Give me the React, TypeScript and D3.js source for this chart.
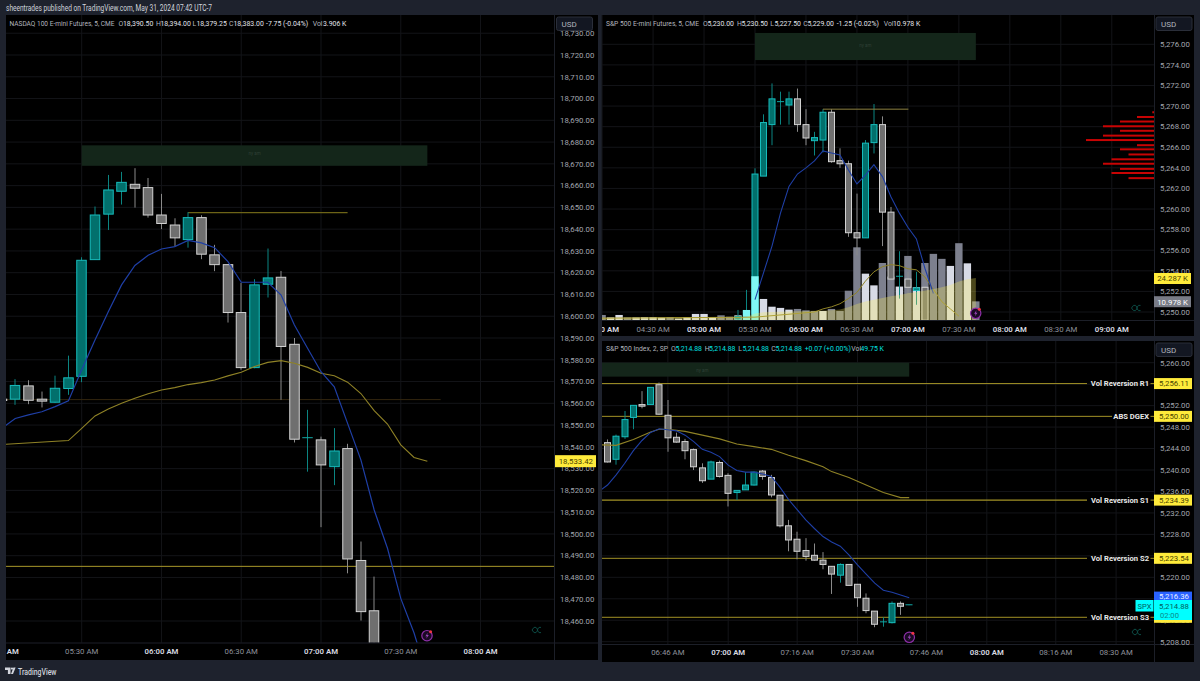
import React from "react";
import * as d3 from "d3";

type C = [string, number, number, number, number];
type P = [string, number];

const nqCandles: C[] = [
["05:00",18561.9,18562,18561.2,18561.3],["05:05",18561.9,18571.1,18559.3,18568.2],["05:10",18568,18570.6,18559.6,18561.4],["05:15",18561.9,18565.4,18558.1,18561],["05:20",18560.5,18572.7,18560.2,18566.9],["05:25",18566.8,18581.9,18563.9,18571.7],["05:30",18572.4,18627.1,18569.7,18625.7],["05:35",18626,18650.4,18626,18646.5],["05:40",18646.9,18664.9,18639.6,18658],["05:45",18657.4,18666.3,18651.3,18661.5],["05:50",18660.6,18668,18649.9,18658.8],["05:55",18659.1,18663.5,18645.3,18646.5],["06:00",18646.5,18656.2,18640,18642.6],["06:05",18641.9,18645,18632,18636],["06:10",18635.2,18647.8,18631.5,18645.3],["06:15",18645.3,18646.4,18626.2,18628.5],["06:20",18628.2,18632.8,18620.7,18623.7],["06:25",18623.7,18623.7,18597.1,18601.7],["06:30",18601.7,18615.3,18575.4,18576.4],["06:35",18576.4,18617,18576.1,18614.4],["06:40",18614.7,18631.1,18608.6,18617.6],["06:45",18617.9,18620.8,18561.6,18586.1],["06:50",18587.1,18590,18542,18543.5],["06:55",18544,18557,18528.6,18544.2],["07:00",18543.2,18544.7,18503.1,18531.7],["07:05",18530.9,18548.6,18522.4,18538.1],["07:10",18539.2,18541.4,18481.9,18488.5],["07:15",18487.8,18496.5,18460.2,18464.3],["07:20",18464.7,18480.4,18438,18440]];
const nqBlue: P[] = [["05:00",18548.6],["05:05",18553],["05:10",18554.7],["05:15",18556.1],["05:20",18558.5],["05:25",18561.1],["05:30",18575.4],["05:35",18589.1],["05:40",18602.1],["05:45",18614.4],["05:50",18623.3],["05:55",18628],["06:00",18630.9],["06:05",18632],["06:10",18634.8],["06:15",18633.7],["06:20",18631.5],["06:25",18625.1],["06:30",18615.6],["06:35",18615.6],["06:40",18615.6],["06:45",18609.7],["06:50",18596],["06:55",18585.2],["07:00",18574.5],["07:05",18567.6],["07:10",18550.8],["07:15",18534],["07:20",18511],["07:25",18493.4],["07:30",18470.4],["07:35",18454.5],["07:40",18434.4]];
const nqYellow: P[] = [["05:00",18541.1],["05:25",18542.9],["05:30",18548.5],["05:35",18554.2],["05:40",18557.4],["05:45",18560],["05:50",18562.3],["05:55",18564.4],["06:00",18566.1],["06:05",18567.2],["06:10",18568.6],["06:15",18569.5],["06:20",18570.7],["06:25",18572.6],["06:30",18574.3],["06:35",18576.9],["06:40",18578.8],["06:45",18579.6],["06:50",18578.4],["06:55",18576.5],["07:00",18573.8],["07:05",18572.7],["07:10",18569.7],["07:15",18564.5],["07:20",18556.6],["07:25",18550.5],["07:30",18540.9],["07:35",18535.1],["07:40",18533.4]];
const nqTimes = ["05:00","05:30","06:00","06:30","07:00","07:30","08:00"];
const nqTicks = d3.range(18460, 18740, 10);

const esCandles: C[] = [
["05:20",5249.3,5250.2,5249.2,5249.56],["05:25",5249.3,5252.15,5249.2,5250.14],["05:30",5249.8,5263.96,5249.8,5263.4],["05:35",5263.2,5269.2,5263.2,5268.4],["05:40",5268.2,5272.2,5266.2,5270.7],["05:45",5270.4,5271.4,5268.2,5270.43],["05:50",5270.1,5271.4,5268.2,5270.7],["05:55",5270.7,5271.7,5267.5,5268.2],["06:00",5268.2,5269.7,5266.2,5266.9],["06:05",5266.64,5267.5,5265.2,5266.94],["06:10",5266.7,5269.7,5265.5,5269.4],["06:15",5269.4,5269.7,5264.5,5264.6],["06:20",5264.7,5265.9,5264,5264.4],["06:25",5264.4,5264.7,5257.3,5257.7],["06:30",5257.7,5261.5,5255.5,5257.2],["06:35",5257.2,5266.7,5257.2,5266.4],["06:40",5266.45,5270.2,5265.4,5268.2],["06:45",5268.2,5269,5256.4,5259.7],["06:50",5259.7,5260.2,5253.05,5253.2],["06:55",5253.4,5255.9,5251.3,5253.47],["07:00",5253.2,5253.9,5251.7,5252.4],["07:05",5252.1,5253.9,5250.7,5252.34],["07:10",5252.4,5252.5,5249.2,5249.2]];
const esBlue: P[] = [["05:30",5251.2],["05:35",5253.8],["05:40",5256.4],["05:45",5259.6],["05:50",5262.2],["05:55",5263.4],["06:00",5264],["06:05",5264.67],["06:10",5265.64],["06:15",5265.45],["06:20",5265.25],["06:25",5263.8],["06:30",5262.44],["06:35",5263.3],["06:40",5264.3],["06:45",5263.15],["06:50",5261.2],["06:55",5259.6],["07:00",5258.23],["07:05",5257.1],["07:10",5254.25],["07:15",5251.8]];
const esYellow: P[] = [["04:00",5249.4],["05:30",5249.5],["06:05",5250],["06:10",5250.3],["06:15",5250.5],["06:20",5250.8],["06:25",5251.3],["06:30",5251.9],["06:35",5253],["06:40",5253.9],["06:45",5254.4],["06:50",5254.6],["06:55",5254.5],["07:00",5254.2],["07:05",5254.1],["07:10",5253.4],["07:15",5252.2],["07:20",5251],["07:25",5250.3],["07:30",5249.6]];
const esVolTimes = ["04:00","04:05","04:10","04:15","04:20","04:25","04:30","04:35","04:40","04:45","04:50","04:55","05:00","05:05","05:10","05:15","05:20","05:25","05:30","05:35","05:40","05:45","05:50","05:55","06:00","06:05","06:10","06:15","06:20","06:25","06:30","06:35","06:40","06:45","06:50","06:55","07:00","07:05","07:10","07:15","07:20","07:25","07:30","07:35","07:40"];
const esVol = [3.1,1.7,3.1,1.7,1.7,1.9,1.9,1.6,1.9,1,1.9,3.7,3.7,1.9,2.9,2.1,2.9,6,25.6,12.4,7.9,7.2,6.2,6.6,5.8,5.4,5.4,6.6,5.4,17.2,42.4,27.1,20.3,33.3,25.4,19.6,37.4,19.2,33.3,38.6,35.7,31.6,44.8,33.1,11];
const esVolKind = ["g","l","l","g","l","l","l","l","g","l","l","l","l","l","g","g","l","c","c","l","l","l","l","g","g","g","l","g","g","g","g","l","l","g","g","l","g","l","g","g","g","l","g","l","g"];
const esVolMa: P[] = [["04:00",1.6],["05:25",1.9],["05:30",4],["05:35",4.7],["06:00",5.4],["06:15",5.8],["06:20",6.3],["06:25",7.6],["06:30",9.5],["06:35",10.9],["06:40",12],["06:45",13],["06:50",14],["06:55",14.7],["07:00",15.7],["07:05",16.5],["07:10",17.2],["07:15",18.2],["07:20",19.2],["07:25",20.5],["07:30",22.5],["07:35",23.8],["07:40",24.6]];
const esProfilePrices = [5269.4,5268.94,5268.5,5268.04,5267.6,5267.13,5266.7,5266.2,5265.8,5265.3,5264.83,5264.4,5263.9,5263.5,5263];
const esProfileSize = [0.2,2,4,6,4,6,8,2,4,3,5,6,4,5,3];
const esTimes = ["04:00","04:30","05:00","05:30","06:00","06:30","07:00","07:30","08:00","08:30","09:00"];
const esTicks = d3.range(5250, 5278, 2);

const spxCandles: C[] = [
["06:32",5245.1,5245.7,5241.4,5241.5],["06:34",5242,5246.6,5241,5246.3],["06:36",5246.2,5251,5245.8,5249.4],["06:38",5249.8,5252.05,5247.6,5252.05],["06:40",5252.2,5254.7,5251.5,5251.9],["06:42",5252.2,5255.4,5252.2,5255.4],["06:44",5255.9,5256.3,5250.3,5250.4],["06:46",5250.2,5253.05,5243.4,5246],["06:48",5246.1,5246.96,5245.1,5245.2],["06:50",5245.3,5245.8,5242,5243.6],["06:52",5243.8,5244,5240,5240.6],["06:54",5240.4,5241.25,5237.6,5238],["06:56",5238.3,5241.75,5238.3,5241.5],["06:58",5241.4,5241.75,5238.6,5238.8],["07:00",5239,5239.4,5233.2,5235.65],["07:02",5235.8,5236.2,5234.4,5236.2],["07:04",5236.3,5239.6,5236.3,5237.2],["07:06",5237.2,5239.7,5237.1,5239.6],["07:08",5239.8,5240,5238.2,5238.8],["07:10",5238.6,5239.1,5234.9,5235.35],["07:12",5235.3,5235.3,5229.3,5229.6],["07:14",5229.6,5230.7,5224.85,5226.96],["07:16",5227.1,5228.5,5223.35,5224.85],["07:18",5225,5227.3,5223.1,5223.9],["07:20",5224.1,5226.3,5223.1,5223.2],["07:22",5223.2,5224.7,5221.5,5222.4],["07:24",5222.05,5222.05,5216.9,5220.6],["07:26",5220.4,5222.6,5219,5222.4],["07:28",5222.4,5222.4,5218.45,5218.5],["07:30",5218.7,5218.7,5214.5,5216.2],["07:32",5216.1,5217,5213.3,5213.8],["07:34",5213.7,5213.7,5210.7,5211.25],["07:36",5211.6,5212.55,5210.8,5211.7],["07:38",5211.55,5215.5,5211.4,5215.15],["07:40",5215.15,5215.5,5213,5214.6],["07:42",5214.8,5214.88,5214.8,5214.88]];
const spxBlue: P[] = [["06:30",5236],["06:32",5237.2],["06:34",5239.1],["06:36",5241.25],["06:38",5243.6],["06:40",5245.5],["06:42",5247],["06:44",5247.7],["06:46",5247.5],["06:48",5247.3],["06:50",5246.5],["06:52",5245.3],["06:54",5243.85],["06:56",5243.3],["06:58",5242.5],["07:00",5240.9],["07:02",5239.9],["07:04",5239.6],["07:06",5239.6],["07:08",5239.25],["07:10",5238.8],["07:12",5236.8],["07:14",5234.5],["07:16",5232.6],["07:18",5230.7],["07:20",5229.1],["07:22",5227.6],["07:24",5226.6],["07:26",5225.8],["07:28",5224.2],["07:30",5222.3],["07:32",5220.6],["07:34",5218.9],["07:36",5217.6],["07:38",5217.2],["07:40",5216.7],["07:42",5216.2]];
const spxYellow: P[] = [["06:30",5244.7],["06:34",5244.6],["06:38",5245.7],["06:42",5247.1],["06:44",5247.6],["06:46",5247.6],["06:50",5247.2],["06:54",5246.5],["06:58",5245.8],["07:02",5244.85],["07:06",5244.35],["07:10",5243.85],["07:14",5242.75],["07:18",5241.75],["07:22",5240.6],["07:24",5239.7],["07:28",5238.6],["07:32",5237.2],["07:36",5235.8],["07:40",5234.85],["07:42",5234.85]];
const spxLevels = [5256.11, 5250.0, 5234.39, 5223.54, 5212.55];
const spxLevelNames = ["Vol Reversion R1", "ABS DGEX", "Vol Reversion S1", "Vol Reversion S2", "Vol Reversion S3"];
const spxTimes = ["06:46","07:00","07:16","07:30","07:46","08:00","08:16","08:30"];
const spxTicks = d3.range(5208, 5264, 4);

const FONT = "Roboto, 'Liberation Sans', sans-serif";
const BG = "#1e222d";
const toMin = (s: string) => { const [h, m] = s.split(":").map(Number); return h * 60 + m; };
const fmt = d3.format(",.2f");

const xNq = d3.scaleLinear([toMin("05:30"), toMin("07:00")], [81.7, 321]);
const yNq = d3.scaleLinear([18460, 18720], [621, 55]);
const xEs = d3.scaleLinear([toMin("05:30"), toMin("07:00")], [755, 907.9]);
const yEs = d3.scaleLinear([5250, 5276], [312, 44.3]);
const yVol = d3.scaleLinear([0, 24.287], [320.3, 278.5]);
const xSpx = d3.scaleLinear([toMin("07:00"), toMin("07:30")], [728.2, 857.5]);
const ySpx = d3.scaleLinear([5208, 5260], [641.7, 362.7]);
const xProfile = d3.scaleLinear([0, 8], [1154, 1086]);

type Sc = d3.ScaleLinear<number, number>;

function linePath(pts: P[], x: Sc, y: Sc) {
  return d3.line<P>().x((d) => x(toMin(d[0]))).y((d) => y(d[1]))(pts) || "";
}

function Candles({ data, x, y, w }: { data: C[]; x: Sc; y: Sc; w: number }) {
  return (
    <g>
      {data.map((d) => {
        const [t, o, h, l, c] = d;
        const up = c >= o;
        const cx = Math.round(x(toMin(t)) * 2) / 2;
        const top = y(Math.max(o, c));
        const bot = y(Math.min(o, c));
        const flat = bot - top < 1.2;
        return (
          <g key={t}>
            <line x1={cx} x2={cx} y1={y(h)} y2={y(l)} stroke={up ? "#0b8582" : "#8a8a8a"} strokeWidth={1} />
            {flat ? (
              <line x1={cx - w / 2} x2={cx + w / 2} y1={top} y2={top} stroke={up ? "#11a8a6" : "#d0d0d0"} strokeWidth={1} />
            ) : (
              <rect x={cx - w / 2 + 0.5} y={top} width={w - 1} height={bot - top} fill={up ? (bot - top < 8 ? "#047f7c" : "#02706c") : "#6f6f6f"} stroke={up ? "#17bcbc" : "#d2d2d2"} strokeWidth={1} />
            )}
          </g>
        );
      })}
    </g>
  );
}

function Bolt({ cx, cy }: { cx: number; cy: number }) {
  return (
    <g>
      <circle cx={cx} cy={cy} r={5.2} fill="#1a0a24" stroke="#8e2fa8" strokeWidth={1.2} />
      <path d={`M${cx + 0.8} ${cy - 3}L${cx - 1.6} ${cy + 0.5}H${cx}L${cx - 0.8} ${cy + 3}L${cx + 1.8} ${cy - 0.6}H${cx + 0.2}Z`} fill="#9a45b8" />
      <circle cx={cx + 3.6} cy={cy - 4} r={1.5} fill="#f23645" />
    </g>
  );
}

function Mark({ cx, cy }: { cx: number; cy: number }) {
  return (
    <g fill="none" stroke="#0c4a44" strokeWidth={1}>
      <path d={`M${cx - 4} ${cy}L${cx - 2} ${cy - 2.6}H${cx}L${cx + 2} ${cy}L${cx} ${cy + 2.6}H${cx - 2}Z`} />
      <path d={`M${cx + 5} ${cy - 2.6}H${cx + 3}L${cx + 1} ${cy}L${cx + 3} ${cy + 2.6}H${cx + 5}`} />
    </g>
  );
}

function Usd({ x, y }: { x: number; y: number }) {
  return (
    <g>
      <rect x={x} y={y} width={36} height={13.5} rx={2} fill="#131722" stroke="#2a2e39" />
      <text x={x + 5} y={y + 10} fontSize={8} fill="#b2b5be" fontFamily={FONT}>USD</text>
    </g>
  );
}

function Hdr({ y, items }: { y: number; items: [number, string, string, number?][] }) {
  return (
    <g fontFamily={FONT} fontSize={6.9}>
      {items.map(([x, s, col, len], i) => (
        <text key={i} x={x} y={y} fill={col} textLength={len} lengthAdjust="spacingAndGlyphs">{s}</text>
      ))}
    </g>
  );
}

function Grid({ times, ticks, x, y, left, right, top, bottom }: { times: string[]; ticks: number[]; x: Sc; y: Sc; left: number; right: number; top: number; bottom: number }) {
  return (
    <g stroke="#131418" strokeWidth={1}>
      {times.map((t) => x(toMin(t)) >= left ? <line key={t} x1={x(toMin(t))} x2={x(toMin(t))} y1={top} y2={bottom} /> : null)}
      {ticks.map((t) => <line key={t} x1={left} x2={right} y1={y(t)} y2={y(t)} />)}
    </g>
  );
}

function TimeLabels({ times, x, yText, clip }: { times: string[]; x: Sc; yText: number; clip: string }) {
  return (
    <g clipPath={`url(#${clip})`} fontFamily={FONT} fontSize={7.8} textAnchor="middle">
      {times.map((t) => {
        const bold = t.endsWith(":00");
        return (
          <text key={t} x={x(toMin(t))} y={yText} fill={bold ? "#d8dae0" : "#8f929b"} fontWeight={bold ? 600 : 400}>{t} AM</text>
        );
      })}
    </g>
  );
}

function PriceLabels({ ticks, y, x }: { ticks: number[]; y: Sc; x: number }) {
  return (
    <g fontFamily={FONT} fontSize={7.8} fill="#a3a6af">
      {ticks.map((t) => <text key={t} x={x} y={y(t) + 2.8}>{fmt(t)}</text>)}
    </g>
  );
}

function Tag({ x, yc, w, text, bg, fg, h = 11 }: { x: number; yc: number; w: number; text: string; bg: string; fg: string; h?: number }) {
  return (
    <g>
      <rect x={x} y={yc - h / 2} width={w} height={h} fill={bg} />
      <text x={x + w - 3} y={yc + 2.8} textAnchor="end" fontFamily={FONT} fontSize={7.8} fill={fg}>{text}</text>
    </g>
  );
}

export default function App() {
  const levelsX = 1154;
  return (
    <svg width={1200} height={681} style={{ position: "fixed", left: 0, top: 0, display: "block", background: BG }}>
      <defs>
        <clipPath id="nqP"><rect x={6} y={15} width={548.5} height={627.7} /></clipPath>
        <clipPath id="nqA"><rect x={555} y={31} width={43} height={611} /></clipPath>
        <clipPath id="nqT"><rect x={6} y={643} width={548} height={17} /></clipPath>
        <clipPath id="esP"><rect x={602} y={15} width={552.3} height={305.3} /></clipPath>
        <clipPath id="esT"><rect x={602} y={321} width={552} height={15} /></clipPath>
        <clipPath id="spP"><rect x={602} y={341} width={552} height={303} /></clipPath>
        <clipPath id="spT"><rect x={602} y={645} width={552} height={17} /></clipPath>
      </defs>

      <text x={6} y={11} fontFamily={FONT} fontSize={8.2} fill="#d1d4dc" textLength={206} lengthAdjust="spacingAndGlyphs">sheentrades published on TradingView.com, May 31, 2024 07:42 UTC-7</text>

      {/* NQ panel */}
      <rect x={6} y={15} width={592} height={645} fill="#000" />
      <Grid times={nqTimes} ticks={nqTicks} x={xNq} y={yNq} left={6} right={554} top={15} bottom={642.7} />
      <g clipPath="url(#nqP)">
        <rect x={xNq(toMin("05:30"))} y={yNq(18678.5)} width={xNq(toMin("07:40")) - xNq(toMin("05:30"))} height={yNq(18669.1) - yNq(18678.5)} fill="#14261a" />
        <text x={xNq(toMin("06:35"))} y={yNq(18674)} textAnchor="middle" fontSize={4.5} fill="#2f4036" fontFamily={FONT}>ny am</text>
        <line x1={xNq(toMin("05:00"))} x2={xNq(toMin("07:45"))} y1={yNq(18561.7)} y2={yNq(18561.7)} stroke="#33260f" />
        <line x1={xNq(toMin("06:10"))} x2={xNq(toMin("07:10"))} y1={yNq(18647.6)} y2={yNq(18647.6)} stroke="#6d6417" strokeWidth={1.4} />
        <line x1={6} x2={554} y1={yNq(18485.1)} y2={yNq(18485.1)} stroke="#a8982a" />
        <Candles data={nqCandles} x={xNq} y={yNq} w={10.5} />
        <path d={linePath(nqYellow, xNq, yNq)} fill="none" stroke="#8f8226" strokeWidth={1.1} />
        <path d={linePath(nqBlue, xNq, yNq)} fill="none" stroke="#1f3fa6" strokeWidth={1.2} />
      </g>
      <line x1={554.5} x2={554.5} y1={15} y2={660} stroke="#1c1f28" />
      <line x1={6} x2={598} y1={643} y2={643} stroke="#1c1f28" />
      <g clipPath="url(#nqA)"><PriceLabels ticks={nqTicks} y={yNq} x={560} /></g>
      <Usd x={556.5} y={17} />
      <Tag x={555} yc={yNq(18533.42)} w={41} text="18,533.42" bg="#ffeb3b" fg="#4a4300" h={12} />
      <Hdr y={25.5} items={[[9.5,"NASDAQ 100 E-mini Futures, 5, CME","#b2b5be",105],[118.5,"O","#b2b5be"],[123,"18,390.50","#e0e3eb"],[156,"H","#b2b5be"],[160.5,"18,394.00","#e0e3eb"],[192.5,"L","#b2b5be"],[196.5,"18,379.25","#e0e3eb"],[229,"C","#b2b5be"],[233.5,"18,383.00","#e0e3eb"],[266,"-7.75 (-0.04%)","#e0e3eb"],[312.7,"Vol","#b2b5be"],[323,"3.906 K","#e0e3eb"]]} />
      <TimeLabels times={nqTimes} x={xNq} yText={654} clip="nqT" />
      <Bolt cx={427} cy={635.7} />
      <Mark cx={536} cy={630} />

      {/* ES panel */}
      <rect x={602} y={15} width={592} height={321} fill="#000" />
      <Grid times={esTimes} ticks={esTicks} x={xEs} y={yEs} left={602} right={1154} top={15} bottom={320} />
      <g clipPath="url(#esP)">
        <rect x={xEs(toMin("05:30"))} y={yEs(5277.1)} width={xEs(toMin("07:40")) - xEs(toMin("05:30"))} height={yEs(5274.47) - yEs(5277.1)} fill="#14261a" />
        <text x={xEs(toMin("06:35"))} y={yEs(5275.7)} textAnchor="middle" fontSize={4.5} fill="#2f4036" fontFamily={FONT}>ny am</text>
        {esProfilePrices.map((p, i) => (
          <rect key={p} x={xProfile(esProfileSize[i])} y={yEs(p) - 1} width={xProfile(0) - xProfile(esProfileSize[i])} height={2} fill="#c80404" />
        ))}
        {esVolTimes.map((t, i) => esVolKind[i] === "c" ? null : (
          <rect key={t} x={xEs(toMin(t)) - 3.7} y={yVol(esVol[i])} width={7.4} height={yVol(0) - yVol(esVol[i])} fill={esVolKind[i] === "g" ? "#7d808e" : "#d8dbe6"} />
        ))}
        <Candles data={esCandles} x={xEs} y={yEs} w={7} />
        {esVolTimes.map((t, i) => esVolKind[i] !== "c" ? null : (
          <rect key={t} x={xEs(toMin(t)) - 3.7} y={yVol(esVol[i])} width={7.4} height={yVol(0) - yVol(esVol[i])} fill="#7ff7f5" />
        ))}
        <line x1={xEs(toMin("06:10"))} x2={xEs(toMin("07:00")) + 0.5} y1={yEs(5269.7)} y2={yEs(5269.7)} stroke="#8d8240" strokeWidth={1} />
        <path d={linePath(esYellow, xEs, yEs)} fill="none" stroke="#8f8226" strokeWidth={1} />
        <path d={linePath(esBlue, xEs, yEs)} fill="none" stroke="#1f3fa6" strokeWidth={1.1} />
        <path d={d3.area<P>().x((d) => xEs(toMin(d[0]))).y0(yVol(0)).y1((d) => yVol(d[1]))(esVolMa) || ""} fill="rgba(250,235,90,0.3)" />
      </g>
      <line x1={1154.5} x2={1154.5} y1={15} y2={336} stroke="#1c1f28" />
      <line x1={602} x2={1194} y1={320.5} y2={320.5} stroke="#1c1f28" />
      <PriceLabels ticks={esTicks} y={yEs} x={1160} />
      <Usd x={1156} y={17} />
      <Tag x={1154} yc={278.5} w={37} text="24.287 K" bg="#ffeb3b" fg="#4a4300" />
      <Tag x={1154} yc={301.7} w={37} text="10.978 K" bg="#787b86" fg="#fff" />
      <Hdr y={25.5} items={[[606,"S&P 500 E-mini Futures, 5, CME","#b2b5be",93],[703,"O","#b2b5be"],[707.5,"5,230.00","#e0e3eb"],[737,"H","#b2b5be"],[741.5,"5,230.50","#e0e3eb"],[770.3,"L","#b2b5be"],[774.5,"5,227.50","#e0e3eb"],[803.3,"C","#b2b5be"],[807.5,"5,229.00","#e0e3eb"],[836.7,"-1.25 (-0.02%)","#e0e3eb"],[883.7,"Vol","#b2b5be"],[893,"10.978 K","#e0e3eb"]]} />
      <TimeLabels times={esTimes} x={xEs} yText={331.5} clip="esT" />
      <Bolt cx={975.7} cy={313.3} />
      <Mark cx={1135.5} cy={308} />

      {/* SPX panel */}
      <rect x={602} y={341} width={592} height={321} fill="#000" />
      <Grid times={spxTimes} ticks={spxTicks} x={xSpx} y={ySpx} left={602} right={1154} top={341} bottom={644} />
      <g clipPath="url(#spP)">
        <rect x={602} y={ySpx(5260)} width={xSpx(toMin("07:42")) - 602} height={ySpx(5257.4) - ySpx(5260)} fill="#14261a" />
        <text x={xSpx(toMin("06:54"))} y={ySpx(5258.3)} textAnchor="middle" fontSize={4.5} fill="#2f4036" fontFamily={FONT}>ny am</text>
        {spxLevels.map((l, i) => {
          const nameW = spxLevelNames[i].length > 10 ? 62 : 37;
          return (
            <g key={l}>
              <line x1={602} x2={1149 - nameW} y1={ySpx(l)} y2={ySpx(l)} stroke="#a29226" strokeWidth={i === 2 ? 1.3 : 1} />
              <line x1={1150.5} x2={1154} y1={ySpx(l)} y2={ySpx(l)} stroke="#a29226" />
            </g>
          );
        })}
        <Candles data={spxCandles} x={xSpx} y={ySpx} w={7} />
        <path d={linePath(spxYellow, xSpx, ySpx)} fill="none" stroke="#8f8226" strokeWidth={1.1} />
        <path d={linePath(spxBlue, xSpx, ySpx)} fill="none" stroke="#1f3fa6" strokeWidth={1.1} />
      </g>
      <g fontFamily={FONT} fontSize={7.6} fontWeight={700} fill="#e8e8e8" textAnchor="end">
        {spxLevels.map((l, i) => <text key={l} x={1149} y={ySpx(l) + 2.8}>{spxLevelNames[i]}</text>)}
      </g>
      <line x1={1154.5} x2={1154.5} y1={341} y2={662} stroke="#1c1f28" />
      <line x1={602} x2={1194} y1={644.5} y2={644.5} stroke="#1c1f28" />
      <PriceLabels ticks={spxTicks} y={ySpx} x={1160} />
      <Usd x={1156} y={343} />
      {spxLevels.map((l, i) => (
        <Tag key={l} x={levelsX} yc={ySpx(l)} w={38} text={i < 4 ? fmt(l) : ""} bg="#ffeb3b" fg="#4a4300" />
      ))}
      <Tag x={levelsX} yc={596.6} w={38} text="5,216.36" bg="#2962ff" fg="#e8eeff" h={10} />
      <rect x={levelsX} y={600} width={38} height={20} fill="#00ffff" />
      <text x={1189} y={608.5} textAnchor="end" fontFamily={FONT} fontSize={7.8} fill="#005c5c">5,214.88</text>
      <text x={1160} y={617.5} fontFamily={FONT} fontSize={7.6} fill="#0a8a8a">02:00</text>
      <rect x={1135.5} y={600} width={18} height={11.5} fill="#00ffff" />
      <text x={1144.5} y={608.7} textAnchor="middle" fontFamily={FONT} fontSize={7.5} fill="#005c5c">SPX</text>
      <Hdr y={351} items={[[606,"S&P 500 Index, 2, SP","#b2b5be",62],[671,"O","#b2b5be"],[675.5,"5,214.88","#00e0e0"],[704.7,"H","#b2b5be"],[709,"5,214.88","#00e0e0"],[738.3,"L","#b2b5be"],[742.5,"5,214.88","#00e0e0"],[771.3,"C","#b2b5be"],[775.5,"5,214.88","#00e0e0"],[804.7,"+0.07 (+0.00%)","#00e0e0"],[851.3,"Vol","#b2b5be"],[860.5,"49.75 K","#00e0e0"]]} />
      <TimeLabels times={spxTimes} x={xSpx} yText={655} clip="spT" />
      <Bolt cx={909.3} cy={637.3} />
      <Mark cx={1136} cy={632} />

      {/* Footer */}
      <g fill="#d1d4dc">
        <path d="M5 667.5h5.5v6.5h-2.6v-4H5z" />
        <circle cx={12} cy={668.6} r={1.1} />
        <path d="M13 674l2.6-6.5h-2.2l-2.4 6.5z" />
        <text x={18} y={674.5} fontFamily={FONT} fontSize={9} fontWeight={500} textLength={38.5} lengthAdjust="spacingAndGlyphs">TradingView</text>
      </g>
    </svg>
  );
}
